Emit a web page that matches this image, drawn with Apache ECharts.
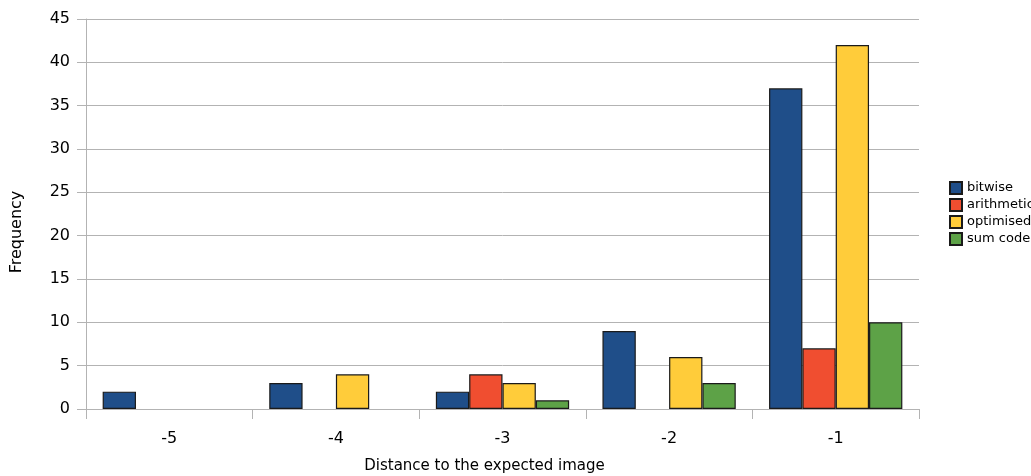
<!DOCTYPE html>
<html><head><meta charset="utf-8">
<script src="https://cdn.jsdelivr.net/npm/echarts@6/dist/echarts.min.js"></script>
<style>html,body{margin:0;padding:0;background:#fff}#c{width:1031px;height:476px}</style>
</head><body><div id="c"></div>
<script>
const categories = ['-5', '-4', '-3', '-2', '-1'];
const bitwise    = [2, 3, 2, 9, 37];
const arithmetic = [null, null, 4, null, 7];
const optimised  = [null, 4, 3, 6, 42];
const sumCode    = [null, null, 1, 3, 10];
const seriesNames = ['bitwise', 'arithmetic', 'optimised', 'sum code'];
const yTicks = { min: 0, max: 45, interval: 5 };
const colors = ['#1f4e89', '#f04e30', '#ffcc3a', '#5da247'];

const font = 'DejaVu Sans, sans-serif';
const chart = echarts.init(document.getElementById('c'));
const dataSets = [bitwise, arithmetic, optimised, sumCode];
chart.setOption({
  animation: false,
  backgroundColor: '#fff',
  grid: { left: 86, right: 112, top: 19, bottom: 67, containLabel: false, outerBoundsMode: 'none' },
  legend: {
    orient: 'vertical', left: 944, top: 176,
    itemWidth: 12, itemHeight: 12, itemGap: 3,
    icon: 'rect',
    textStyle: { fontFamily: font, fontSize: 13, lineHeight: 12, color: '#000' },
    data: seriesNames
  },
  xAxis: {
    type: 'category', data: categories,
    name: 'Distance to the expected image', nameLocation: 'middle', nameGap: 50,
    nameTextStyle: { fontFamily: font, fontSize: 15, color: '#000', padding: [0, 36, 0, 0] },
    axisLine: { lineStyle: { color: '#b3b3b3' } },
    axisTick: { show: true, length: 10, lineStyle: { color: '#b3b3b3' } },
    axisLabel: { fontFamily: font, fontSize: 16, color: '#000', margin: 22 },
    splitLine: { show: false }
  },
  yAxis: {
    type: 'value', min: yTicks.min, max: yTicks.max, interval: yTicks.interval,
    name: 'Frequency', nameLocation: 'middle', nameGap: 61,
    nameTextStyle: { fontFamily: font, fontSize: 16, color: '#000', padding: [0, 0, 0, -36] },
    axisLine: { show: true, lineStyle: { color: '#b3b3b3' } },
    axisTick: { show: true, inside: false, length: 9, lineStyle: { color: '#b3b3b3' } },
    axisLabel: { fontFamily: font, fontSize: 16, color: '#000', margin: 16 },
    splitLine: { lineStyle: { color: '#b3b3b3' } }
  },
  series: seriesNames.map((n, i) => ({
    name: n, type: 'bar', data: dataSets[i],
    barGap: '0%', barCategoryGap: '20%',
    itemStyle: { color: colors[i], borderColor: '#1a1a1a', borderWidth: 1.2 }
  }))
});
</script></body></html>
